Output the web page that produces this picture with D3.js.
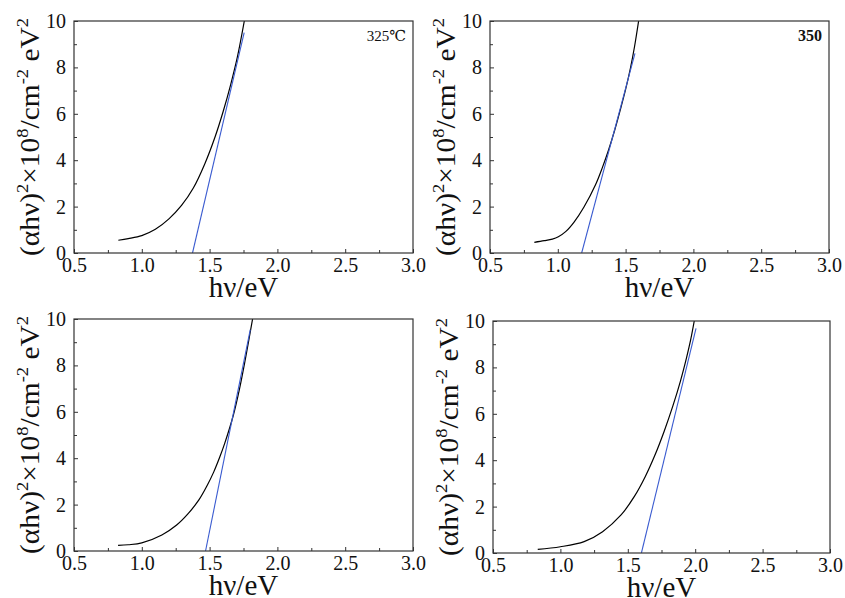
<!DOCTYPE html>
<html>
<head>
<meta charset="utf-8">
<script src="https://cdn.jsdelivr.net/npm/d3@7"></script>
<style>
  html, body { margin: 0; padding: 0; background: #ffffff; }
  svg { display: block; }
  svg text { font-family: "Liberation Serif", "Tinos", "Times New Roman", "DejaVu Serif", serif; fill: #111; }
</style>
</head>
<body>
<svg id="chart" width="845" height="598"></svg>
<script>
// ---------- data ----------
const xTickValues = [0.5, 1.0, 1.5, 2.0, 2.5, 3.0];
const xMinorValues = [0.75, 1.25, 1.75, 2.25, 2.75];
const yTickValues = [0, 2, 4, 6, 8, 10];
const yMinorValues = [1, 3, 5, 7, 9];
const xDomain = [0.5, 3.0];
const yDomain = [0, 10];

const panelLabels = ["325\u2103", "350", "", ""];

// panel 1 (325 °C)
const hv1 = [0.827, 0.9, 1.0, 1.1, 1.2, 1.293, 1.38, 1.465, 1.54, 1.6, 1.655, 1.705, 1.756];
const ahv1 = [0.55, 0.62, 0.75, 1.02, 1.47, 2.05, 2.8, 3.85, 5.0, 6.1, 7.25, 8.45, 10.0];
const fitX1 = [1.374, 1.755];
const fitY1 = [0, 9.5];

// panel 2 (350)
const hv2 = [0.827, 0.9, 0.96, 1.004, 1.06, 1.12, 1.193, 1.279, 1.33, 1.375, 1.42, 1.46, 1.5, 1.535, 1.566, 1.596];
const ahv2 = [0.46, 0.53, 0.6, 0.7, 0.93, 1.33, 1.98, 2.95, 3.7, 4.45, 5.3, 6.15, 7.05, 7.95, 8.9, 10.0];
const fitX2 = [1.176, 1.569];
const fitY2 = [0, 8.6];

// panel 3
const hv3 = [0.825, 0.9, 1.0, 1.148, 1.257, 1.34, 1.421, 1.48, 1.53, 1.575, 1.612, 1.675, 1.721, 1.763, 1.817];
const ahv3 = [0.24, 0.27, 0.35, 0.69, 1.12, 1.6, 2.2, 2.8, 3.4, 4.05, 4.65, 5.85, 7.0, 8.25, 10.0];
const fitX3 = [1.47, 1.80];
const fitY3 = [0, 9.54];

// panel 4
const hv4 = [0.832, 1.0, 1.176, 1.313, 1.45, 1.55, 1.63, 1.7, 1.77, 1.835, 1.89, 1.935, 1.965, 1.993];
const ahv4 = [0.16, 0.27, 0.49, 0.92, 1.64, 2.45, 3.3, 4.2, 5.25, 6.35, 7.4, 8.4, 9.15, 10.0];
const fitX4 = [1.601, 2.006];
const fitY4 = [0, 9.68];

const curvesX = [hv1, hv2, hv3, hv4];
const curvesY = [ahv1, ahv2, ahv3, ahv4];
const fitsX = [fitX1, fitX2, fitX3, fitX4];
const fitsY = [fitY1, fitY2, fitY3, fitY4];

// ---------- layout ----------
const frames = [
  { x0: 74, x1: 413, y0: 21, y1: 253 },
  { x0: 490, x1: 829, y0: 21, y1: 253 },
  { x0: 74, x1: 413, y0: 319, y1: 551 },
  { x0: 493, x1: 830, y0: 321, y1: 553 }
];

const svg = d3.select("#chart");
const frameColor = "#333";
const serif = "'Liberation Serif', 'Tinos', 'Times New Roman', 'DejaVu Serif', serif";

frames.forEach((f, i) => {
  const x = d3.scaleLinear().domain(xDomain).range([f.x0, f.x1]);
  const y = d3.scaleLinear().domain(yDomain).range([f.y1, f.y0]);
  const g = svg.append("g");

  const clipId = "clip" + i;
  g.append("clipPath").attr("id", clipId)
    .append("rect").attr("x", f.x0).attr("y", f.y0)
    .attr("width", f.x1 - f.x0).attr("height", f.y1 - f.y0);

  const xa = g.append("g").attr("transform", `translate(0,${f.y1})`)
    .call(d3.axisBottom(x).tickValues(xTickValues).tickSizeInner(-4).tickSizeOuter(0)
      .tickPadding(5).tickFormat(d3.format(".1f")));
  const xm = g.append("g").attr("transform", `translate(0,${f.y1})`)
    .call(d3.axisBottom(x).tickValues(xMinorValues).tickSizeInner(-3).tickSizeOuter(0).tickFormat(""));
  const ya = g.append("g").attr("transform", `translate(${f.x0},0)`)
    .call(d3.axisLeft(y).tickValues(yTickValues).tickSizeInner(-4).tickSizeOuter(0)
      .tickPadding(8).tickFormat(d3.format("d")));
  const ym = g.append("g").attr("transform", `translate(${f.x0},0)`)
    .call(d3.axisLeft(y).tickValues(yMinorValues).tickSizeInner(-3).tickSizeOuter(0).tickFormat(""));

  [xa, xm, ya, ym].forEach(a => {
    a.attr("font-family", serif);
    a.select(".domain").remove();
    a.selectAll("line").attr("stroke", frameColor).attr("stroke-width", 1);
    a.selectAll("text").style("font-family", serif)
      .attr("font-size", 20).attr("fill", "#111");
  });

  const pts = curvesX[i].map((v, k) => [v, curvesY[i][k]]);
  const line = d3.line().x(d => x(d[0])).y(d => y(d[1])).curve(d3.curveCatmullRom.alpha(0.5));
  g.append("path").datum(pts)
    .attr("clip-path", `url(#${clipId})`)
    .attr("fill", "none").attr("stroke", "#000").attr("stroke-width", 1.2)
    .attr("d", line);

  const fpts = fitsX[i].map((v, k) => [v, fitsY[i][k]]);
  g.append("path").datum(fpts)
    .attr("clip-path", `url(#${clipId})`)
    .attr("fill", "none").attr("stroke", "#3a5bd0").attr("stroke-width", 1.1)
    .attr("d", d3.line().x(d => x(d[0])).y(d => y(d[1])));

  g.append("rect").attr("x", f.x0).attr("y", f.y0)
    .attr("width", f.x1 - f.x0).attr("height", f.y1 - f.y0)
    .attr("fill", "none").attr("stroke", frameColor).attr("stroke-width", 1.2);

  // x label
  g.append("text").attr("x", (f.x0 + f.x1) / 2).attr("y", f.y1 + 44)
    .attr("text-anchor", "middle").attr("font-size", 29)
    .style("font-family", serif)
    .text("h\u03bd/eV");

  // y label
  const yl = g.append("text")
    .attr("transform", `translate(${f.x0 - 35},${(f.y0 + f.y1) / 2}) rotate(-90)`)
    .attr("text-anchor", "middle").attr("font-size", 27)
    .attr("textLength", 238).attr("lengthAdjust", "spacingAndGlyphs")
    .style("font-family", serif);
  yl.append("tspan").text("(\u03b1h\u03bd)");
  yl.append("tspan").attr("font-size", 17).attr("dy", -11).text("2");
  yl.append("tspan").attr("dy", 11).text("\u00d710");
  yl.append("tspan").attr("font-size", 17).attr("dy", -11).text("8");
  yl.append("tspan").attr("dy", 11).text("/cm");
  yl.append("tspan").attr("font-size", 17).attr("dy", -11).text("-2");
  yl.append("tspan").attr("dy", 11).text(" eV");
  yl.append("tspan").attr("font-size", 17).attr("dy", -11).text("2");

  if (panelLabels[i]) {
    g.append("text").attr("x", f.x1 - 7).attr("y", f.y0 + 20)
      .attr("text-anchor", "end")
      .attr("font-size", i === 1 ? 16 : 15)
      .attr("font-weight", i === 1 ? "bold" : "normal")
      .style("font-family", serif)
      .text(panelLabels[i]);
  }
});
</script>
</body>
</html>
